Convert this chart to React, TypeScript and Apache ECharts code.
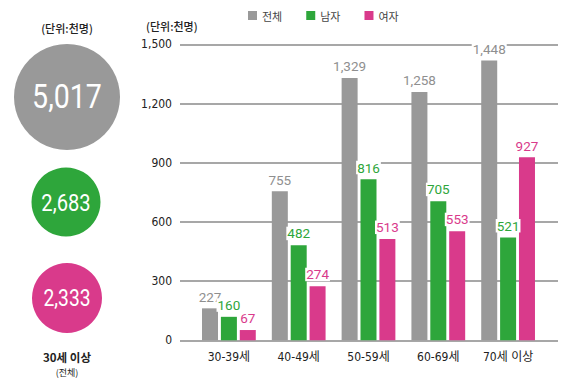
import React, { useEffect, useRef } from "react";
import * as echarts from "echarts";

const categories = ["30-39세", "40-49세", "50-59세", "60-69세", "70세 이상"];
const seriesNames = ["전체", "남자", "여자"];
// bar heights as drawn in the picture
const totalBars = [162, 755, 1329, 1258, 1418];
const maleBars = [119, 482, 816, 705, 521];
const femaleBars = [52, 274, 513, 553, 927];
// printed value labels
const totalLabels = ["227", "755", "1,329", "1,258", "1,448"];
const maleLabels = ["160", "482", "816", "705", "521"];
const femaleLabels = ["67", "274", "513", "553", "927"];
const summaryValues = ["5,017", "2,683", "2,333"];
const yTicks = { min: 0, max: 1500, interval: 300 };

const GRAY = "#999999";
const GREEN = "#2ea63b";
const PINK = "#d93a8b";
const GRAY_TXT = "#8f8f8f";
const COND = "'DejaVu Sans Condensed', 'Noto Sans CJK KR', sans-serif";
const NUM = "Roboto, 'Noto Sans CJK KR', sans-serif";
const KR = "'Noto Sans CJK KR', sans-serif";

export default function App() {
  const ref = useRef<HTMLDivElement>(null);
  useEffect(() => {
    if (!ref.current) return;
    const chart = echarts.init(ref.current, undefined, { renderer: "svg" });
    const mkSeries = (name: string, data: number[], labels: string[], color: string, txt: string) => ({
      name,
      type: "bar",
      xAxisIndex: 0,
      yAxisIndex: 0,
      data,
      barWidth: 16,
      barGap: "18%",
      itemStyle: { color },
      label: {
        show: true,
        position: "top",
        distance: 5,
        formatter: (p: any) => labels[p.dataIndex],
        color: txt,
        fontSize: 13.5,
        fontFamily: NUM,
        backgroundColor: "#ffffff",
        padding: [0, 1],
      },
    });
    const circleText = (x: number, y: number, text: string, size: number) => ({
      type: "text",
      x,
      y,
      scaleX: 0.84,
      style: { text, fontSize: size, fill: "#fff", fontFamily: NUM, align: "center", verticalAlign: "middle" },
    });
    chart.setOption({
      animation: false,
      backgroundColor: "#ffffff",
      legend: {
        top: 5,
        left: 243,
        itemWidth: 9,
        itemHeight: 9,
        itemGap: 24,
        icon: "rect",
        data: seriesNames,
        textStyle: { fontSize: 11, color: "#444", fontFamily: KR },
      },
      grid: [
        { left: 194, right: 24, top: 44.3, bottom: 43.7 },
        { left: 180, right: 9, top: 44.3, bottom: 43.7 },
      ],
      xAxis: [
        {
          type: "category",
          gridIndex: 0,
          data: categories,
          axisLine: { show: false },
          axisTick: { show: false },
          axisLabel: { fontSize: 12, color: "#222", margin: 11, fontFamily: COND },
        },
        {
          type: "value",
          gridIndex: 1,
          min: 0,
          max: 1,
          show: false,
        },
      ],
      yAxis: [
        {
          type: "value",
          gridIndex: 0,
          min: yTicks.min,
          max: yTicks.max,
          interval: yTicks.interval,
          show: false,
        },
        {
          type: "value",
          gridIndex: 1,
          min: yTicks.min,
          max: yTicks.max,
          interval: yTicks.interval,
          axisLine: { show: false },
          axisTick: { show: false },
          axisLabel: {
            fontSize: 12,
            color: "#222",
            margin: 8,
            fontFamily: COND,
            formatter: (v: number) => v.toLocaleString("en-US"),
          },
          splitLine: { lineStyle: { color: "#8a8a8a", width: 1.6 } },
        },
      ],
      series: [
        mkSeries(seriesNames[0], totalBars, totalLabels, GRAY, GRAY_TXT),
        mkSeries(seriesNames[1], maleBars, maleLabels, GREEN, GREEN),
        mkSeries(seriesNames[2], femaleBars, femaleLabels, PINK, PINK),
      ],
      graphic: [
        { type: "text", left: 146, top: 20, style: { text: "(단위:천명)", fontSize: 11, fill: "#222", fontFamily: KR, fontWeight: 500 } },
        { type: "text", x: 67, y: 28, style: { text: "(단위:천명)", fontSize: 11, fill: "#222", fontFamily: KR, fontWeight: 500, align: "center", verticalAlign: "middle" } },
        { type: "circle", shape: { cx: 67, cy: 97, r: 53 }, style: { fill: GRAY } },
        circleText(67, 97, summaryValues[0], 34),
        { type: "circle", shape: { cx: 66, cy: 202, r: 34.5 }, style: { fill: GREEN } },
        circleText(66, 202, summaryValues[1], 24),
        { type: "circle", shape: { cx: 67, cy: 298, r: 35 }, style: { fill: PINK } },
        circleText(67, 298, summaryValues[2], 23),
        { type: "text", x: 67, y: 357, style: { text: "30세 이상", fontSize: 11.5, fill: "#222", fontFamily: KR, fontWeight: "bold", align: "center", verticalAlign: "middle" } },
        { type: "text", x: 67, y: 372, style: { text: "(전체)", fontSize: 9, fill: "#222", fontFamily: KR, align: "center", verticalAlign: "middle" } },
      ],
    });
    return () => chart.dispose();
  }, []);
  return <div ref={ref} style={{ width: 567, height: 384, position: "absolute", left: 0, top: 0 }} />;
}
